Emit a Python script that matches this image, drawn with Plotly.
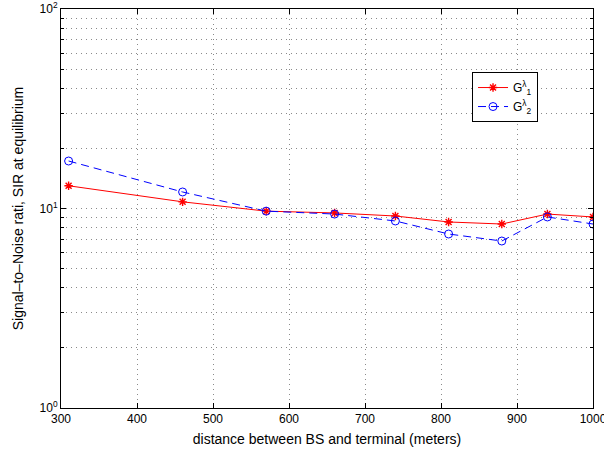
import plotly.graph_objects as go

distance = [310, 460, 570, 660, 740, 810, 880, 940, 1000]
sir_g1 = [13.0, 10.8, 9.7, 9.5, 9.17, 8.56, 8.36, 9.38, 9.07]
sir_g2 = [17.3, 12.1, 9.7, 9.38, 8.66, 7.45, 6.87, 9.07, 8.36]

x_ticks = [300, 400, 500, 600, 700, 800, 900, 1000]
y_ticks = [1, 10, 100]
y_ticktext = ["10<sup>0</sup>", "10<sup>1</sup>", "10<sup>2</sup>"]

GRID = "#8a8a8a"
DOTS = "1px,4px"

fig = go.Figure()
fig.add_trace(go.Scatter(
    x=distance, y=sir_g1, mode="lines+markers",
    name="G<sup>λ</sup><sub>1</sub>",
    line=dict(color="red", width=1),
    marker=dict(symbol="asterisk-open", size=7, color="red", line=dict(color="red", width=1.4)),
))
fig.add_trace(go.Scatter(
    x=distance, y=sir_g2, mode="lines+markers",
    name="G<sup>λ</sup><sub>2</sub>",
    line=dict(color="blue", width=1, dash="8px,5px"),
    marker=dict(symbol="circle-open", size=8, color="blue", line=dict(color="blue", width=1)),
))

fig.update_layout(
    width=604, height=452,
    margin=dict(l=61, r=11, t=9, b=44),
    paper_bgcolor="white", plot_bgcolor="white",
    font=dict(family="Liberation Sans, Arial", size=12, color="black"),
    showlegend=True,
    legend=dict(
        x=0.7726, y=0.842, xanchor="left", yanchor="top",
        bgcolor="white", bordercolor="black", borderwidth=1,
        font=dict(size=12), tracegroupgap=0, itemwidth=30,
    ),
)
fig.update_xaxes(
    range=[300, 1000], tickvals=x_ticks, ticklabeloverflow="allow", automargin=False,
    showline=True, linecolor="black", linewidth=1, mirror="ticks",
    ticks="inside", ticklen=5, tickcolor="black",
    showgrid=True, gridcolor=GRID, griddash=DOTS, gridwidth=1,
    zeroline=False,
    title=dict(text="distance between BS and terminal (meters)", font=dict(size=14), standoff=8),
)
fig.update_yaxes(
    type="log", range=[0, 2], tickvals=y_ticks, ticktext=y_ticktext, automargin=False,
    ticklabeloverflow="allow",
    showline=True, linecolor="black", linewidth=1, mirror="ticks",
    ticks="inside", ticklen=5, tickcolor="black",
    showgrid=True, gridcolor=GRID, griddash=DOTS, gridwidth=1,
    minor=dict(ticks="inside", ticklen=3, tickcolor="black", showgrid=True,
               gridcolor=GRID, griddash=DOTS, gridwidth=1, dtick="D1"),
    zeroline=False,
    title=dict(text="Signal–to–Noise rati, SIR at equilibrium", font=dict(size=14), standoff=12),
)

fig.write_html("out.html")
